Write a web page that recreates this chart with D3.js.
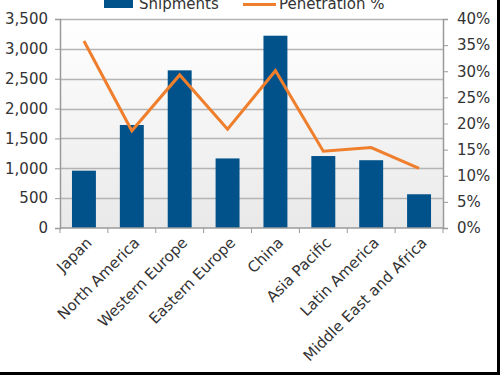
<!DOCTYPE html>
<html>
<head>
<meta charset="utf-8">
<script src="https://cdn.jsdelivr.net/npm/d3@7"></script>
<style>
  html, body { margin: 0; padding: 0; background: #fff; }
  svg { display: block; }
  text { font-family: "DejaVu Sans", Verdana, sans-serif; fill: #333; }
</style>
</head>
<body>
<div id="chart"></div>
<script>
// data
const regions = ['Japan', 'North America', 'Western Europe', 'Eastern Europe', 'China', 'Asia Pacific', 'Latin America', 'Middle East and Africa'];
const shipments = [960, 1725, 2640, 1165, 3220, 1205, 1135, 565];
const penetration = [35.8, 18.6, 29.3, 18.9, 30.1, 14.7, 15.4, 11.4];
const leftTicks = [0, 500, 1000, 1500, 2000, 2500, 3000, 3500];
const rightTicks = [0, 5, 10, 15, 20, 25, 30, 35, 40];

const width = 500, height = 375;
const margin = { top: 19, right: 57, bottom: 147, left: 60 };
const innerW = width - margin.left - margin.right;
const innerH = height - margin.top - margin.bottom;

const svg = d3.select('#chart').append('svg')
  .attr('width', width)
  .attr('height', height);

// plot background gradient
const defs = svg.append('defs');
const grad = defs.append('linearGradient')
  .attr('id', 'bg')
  .attr('x1', 0).attr('y1', 0).attr('x2', 0).attr('y2', 1);
grad.append('stop').attr('offset', '0%').attr('stop-color', '#ffffff');
grad.append('stop').attr('offset', '100%').attr('stop-color', '#e9e9e9');

const g = svg.append('g')
  .attr('transform', `translate(${margin.left},${margin.top})`);

g.append('rect')
  .attr('width', innerW)
  .attr('height', innerH)
  .attr('fill', 'url(#bg)');

const x = d3.scaleBand().domain(regions).range([0, innerW]).paddingInner(0.5).paddingOuter(0.25);
const yL = d3.scaleLinear().domain([0, 3500]).range([innerH, 0]);
const yR = d3.scaleLinear().domain([0, 40]).range([innerH, 0]);

// gridlines
g.append('g')
  .selectAll('line')
  .data(leftTicks.slice(1))
  .join('line')
  .attr('x1', 0).attr('x2', innerW)
  .attr('y1', d => Math.round(yL(d)) + 0.5)
  .attr('y2', d => Math.round(yL(d)) + 0.5)
  .attr('stroke', '#b4b4b4')
  .attr('stroke-width', 1.5);

// bars
g.append('g')
  .selectAll('rect')
  .data(regions)
  .join('rect')
  .attr('x', d => x(d))
  .attr('width', x.bandwidth())
  .attr('y', (d, i) => yL(shipments[i]))
  .attr('height', (d, i) => innerH - yL(shipments[i]))
  .attr('fill', '#01518b');

// penetration line
const line = d3.line()
  .x((d, i) => x(regions[i]) + x.bandwidth() / 2)
  .y(d => yR(d));

g.append('path')
  .datum(penetration)
  .attr('d', line)
  .attr('fill', 'none')
  .attr('stroke', '#ef7f2c')
  .attr('stroke-width', 3)
  .attr('stroke-linejoin', 'miter');

// axes
const axisColor = '#9a9a9a';

const leftAxis = g.append('g')
  .call(d3.axisLeft(yL).tickValues(leftTicks).tickFormat(d3.format(',')).tickSize(5).tickPadding(7));

const rightAxis = g.append('g')
  .attr('transform', `translate(${innerW},0)`)
  .call(d3.axisRight(yR).tickValues(rightTicks).tickFormat(d => d + '%').tickSize(5).tickPadding(9));

// bottom axis with ticks on category boundaries
const bottom = g.append('g').attr('transform', `translate(0,${innerH})`);
bottom.append('line')
  .attr('x1', 0).attr('x2', innerW)
  .attr('stroke', axisColor).attr('stroke-width', 1.5);
const step = innerW / regions.length;
bottom.selectAll('line.tick')
  .data(d3.range(regions.length + 1))
  .join('line')
  .attr('class', 'tick')
  .attr('x1', d => d * step).attr('x2', d => d * step)
  .attr('y1', 0).attr('y2', 5)
  .attr('stroke', axisColor);
bottom.selectAll('text')
  .data(regions)
  .join('text')
  .attr('transform', d => `translate(${x(d) + x.bandwidth() / 2 + 5},${12}) rotate(-45)`)
  .attr('text-anchor', 'end')
  .attr('dy', '0.35em')
  .style('font-size', '15px')
  .text(d => d);

[leftAxis, rightAxis].forEach(a => {
  a.select('.domain').attr('stroke', axisColor).attr('stroke-width', 1.5);
  a.selectAll('.tick line').attr('stroke', axisColor);
  a.selectAll('.tick text')
    .style('font-size', '15px')
    .style('font-family', '"DejaVu Sans", Verdana, sans-serif')
    .attr('fill', '#333');
});

// legend (partly clipped at the top edge)
const legend = svg.append('g');
legend.append('rect')
  .attr('x', 104).attr('y', -4)
  .attr('width', 29).attr('height', 12)
  .attr('fill', '#01518b');
legend.append('text')
  .attr('x', 139).attr('y', 9)
  .style('font-size', '15px')
  .text('Shipments');
legend.append('line')
  .attr('x1', 243).attr('x2', 276)
  .attr('y1', 4.5).attr('y2', 4.5)
  .attr('stroke', '#ef7f2c')
  .attr('stroke-width', 3);
legend.append('text')
  .attr('x', 279).attr('y', 9)
  .style('font-size', '15px')
  .text('Penetration %');

// black frame strips at right and bottom edges
svg.append('rect').attr('x', 497).attr('y', 0).attr('width', 3).attr('height', height).attr('fill', '#000');
svg.append('rect').attr('x', 0).attr('y', 372).attr('width', width).attr('height', 3).attr('fill', '#000');
</script>
</body>
</html>
